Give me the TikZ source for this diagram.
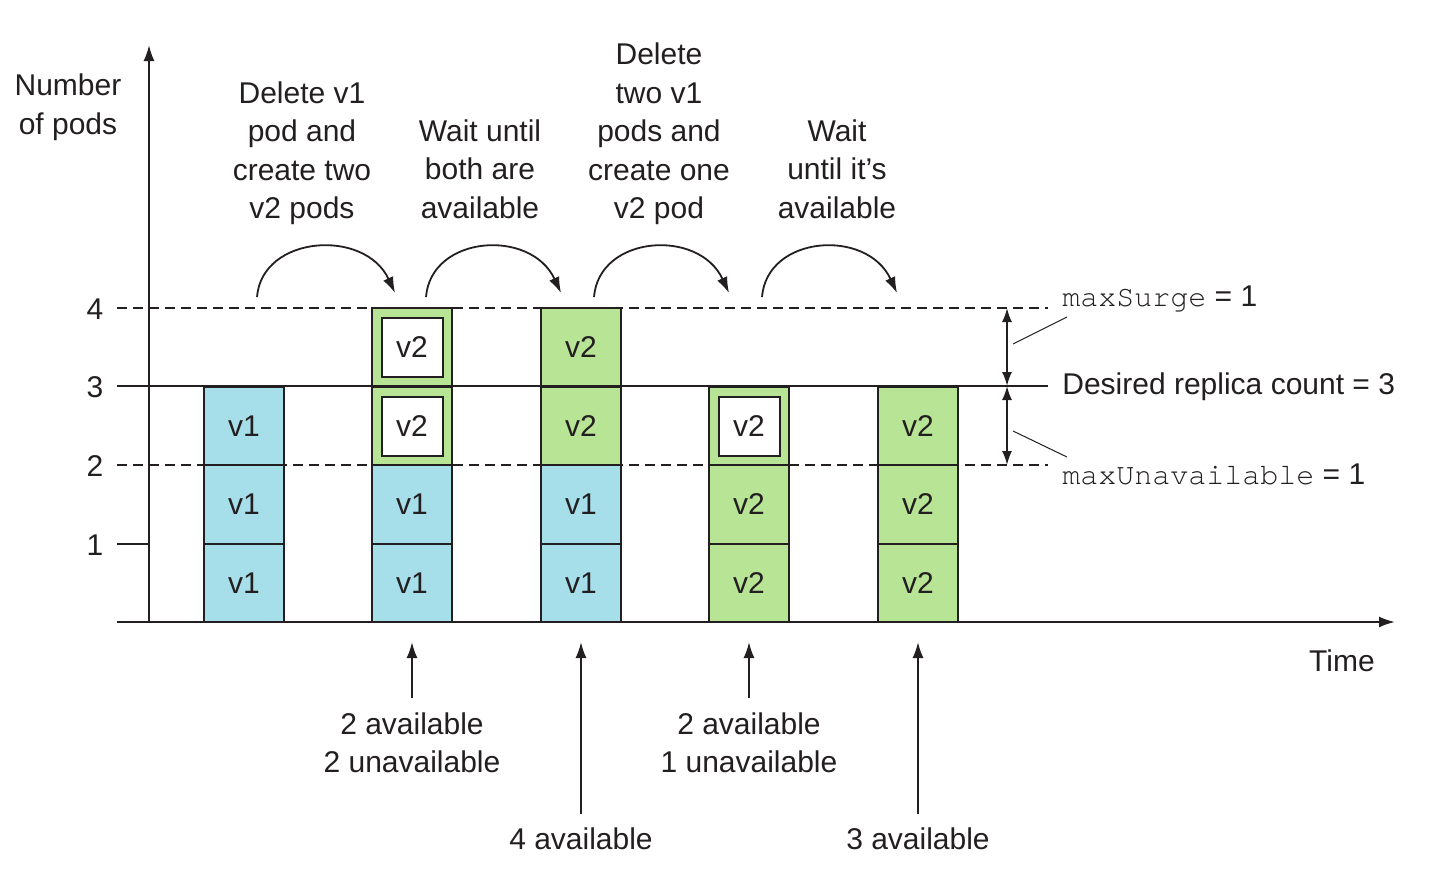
\documentclass[tikz,border=0pt]{standalone}
\usepackage{fontspec}
\setmainfont{Liberation Sans}
\setmonofont{TeX Gyre Cursor}
\usetikzlibrary{arrows.meta}
\definecolor{podblue}{RGB}{166,223,233}
\definecolor{podgreen}{RGB}{184,228,150}
\definecolor{ink}{RGB}{35,31,32}
\begin{document}
\begin{tikzpicture}[x=0.5pt,y=-0.5pt,
  font=\fontsize{15}{19.25}\selectfont,
  every node/.style={text=ink},
  pod/.style={draw=ink, line width=1pt, minimum width=40pt, minimum height=39.25pt, inner sep=0pt},
  podv1/.style={pod, fill=podblue},
  podv2/.style={pod, fill=podgreen},
  newpod/.style={draw=ink, line width=1pt, fill=white, minimum width=30.5pt, minimum height=29.5pt, inner sep=0pt},
  lbl/.style={align=center, inner sep=0pt},
  axis/.style={draw=ink, line width=1pt},
  level/.style={draw=ink, line width=0.9pt, dash pattern=on 5pt off 3pt},
  tip/.style={-{Latex[length=8pt,width=5.5pt]}},
  hop/.style={draw=ink, line width=0.9pt, -{Latex[length=8pt,width=5.5pt]}},
  dbl/.style={draw=ink, line width=0.9pt, {Latex[length=7pt,width=5pt]}-{Latex[length=7pt,width=5pt]}},
  leader/.style={draw=ink, line width=0.5pt}
]
\useasboundingbox (0,0) rectangle (1431,885);

% level lines
\draw[level] (117,308) -- (1048,308);
\draw[level] (117,465) -- (1048,465);
\draw[axis] (117,386) -- (1048,386);
\draw[axis] (117,544) -- (149,544);

% axes
\coordinate (yb) at (149,622);
\coordinate (yt) at (149,45);
\coordinate (xl) at (117,622);
\coordinate (xr) at (1395,622);
\draw[axis, tip] (yb) -- (yt);
\draw[axis, tip] (xl) -- (xr);

% tick labels
\node[lbl] (t4) at (95,309) {4};
\node[lbl] (t3) at (95,387) {3};
\node[lbl] (t2) at (95,466) {2};
\node[lbl] (t1) at (95,545) {1};
\node[lbl] (ylab) at (68,107) {Number\\of pods};
\node[lbl] (xlab) at (1342,661) {Time};

% column 1
\node[podv1] (c1a) at (244,583) {v1};
\node[podv1] (c1b) at (244,504.5) {v1};
\node[podv1] (c1c) at (244,426) {v1};
% column 2
\node[podv1] (c2a) at (412,583) {v1};
\node[podv1] (c2b) at (412,504.5) {v1};
\node[podv2] (c2c) at (412,426) {};
\node[newpod] (c2ci) at (412,426) {v2};
\node[podv2] (c2d) at (412,347) {};
\node[newpod] (c2di) at (412,347) {v2};
% column 3
\node[podv1] (c3a) at (581,583) {v1};
\node[podv1] (c3b) at (581,504.5) {v1};
\node[podv2] (c3c) at (581,426) {v2};
\node[podv2] (c3d) at (581,347) {v2};
% column 4
\node[podv2] (c4a) at (749,583) {v2};
\node[podv2] (c4b) at (749,504.5) {v2};
\node[podv2] (c4c) at (749,426) {};
\node[newpod] (c4ci) at (749,426) {v2};
% column 5
\node[podv2] (c5a) at (918,583) {v2};
\node[podv2] (c5b) at (918,504.5) {v2};
\node[podv2] (c5c) at (918,426) {v2};

% step descriptions
\node[lbl] (s1) at (302,153) {Delete v1\\pod and\\create two\\v2 pods};
\node[lbl] (s2) at (480,169) {Wait until\\both are\\available};
\node[lbl] (s3) at (659,134) {Delete\\two v1\\pods and\\create one\\v2 pod};
\node[lbl] (s4) at (837,169) {Wait\\until it’s\\available};

% hop arrows
\coordinate (h1s) at (257,297); \coordinate (h1e) at (395,293);
\coordinate (h2s) at (426,297); \coordinate (h2e) at (561,293);
\coordinate (h3s) at (594,297); \coordinate (h3e) at (729,293);
\coordinate (h4s) at (762,297); \coordinate (h4e) at (897,293);
\draw[hop] (h1s) .. controls (262,235) and (365,228) .. (h1e);
\draw[hop] (h2s) .. controls (431,235) and (531,228) .. (h2e);
\draw[hop] (h3s) .. controls (599,235) and (699,228) .. (h3e);
\draw[hop] (h4s) .. controls (767,235) and (867,228) .. (h4e);

% availability
\node[lbl] (a2) at (412,743) {2 available\\2 unavailable};
\node[lbl] (a3) at (581,839) {4 available};
\node[lbl] (a4) at (749,743) {2 available\\1 unavailable};
\node[lbl] (a5) at (918,839) {3 available};
\coordinate (u2s) at (412,698); \coordinate (u2e) at (412,642);
\coordinate (u3s) at (581,814); \coordinate (u3e) at (581,642);
\coordinate (u4s) at (749,698); \coordinate (u4e) at (749,642);
\coordinate (u5s) at (918,814); \coordinate (u5e) at (918,642);
\draw[axis, tip] (u2s) -- (u2e);
\draw[axis, tip] (u3s) -- (u3e);
\draw[axis, tip] (u4s) -- (u4e);
\draw[axis, tip] (u5s) -- (u5e);

% right-hand annotations
\coordinate (d4) at (1007,308); \coordinate (d3) at (1007,386); \coordinate (d2) at (1007,465);
\draw[dbl] (d4) -- (d3);
\draw[dbl] (d3) -- (d2);
\node[lbl, anchor=west] (ms) at (1062,299) {\texttt{maxSurge} = 1};
\node[lbl, anchor=west] (drc) at (1062,387) {Desired replica count = 3};
\node[lbl, anchor=west] (mu) at (1062,474) {\texttt{maxUnavailable} = 1};
\coordinate (l1a) at (1013,344); \coordinate (l1b) at (1067,317);
\coordinate (l2a) at (1013,431); \coordinate (l2b) at (1067,457);
\draw[leader] (l1a) -- (l1b);
\draw[leader] (l2a) -- (l2b);
\end{tikzpicture}
\end{document}
